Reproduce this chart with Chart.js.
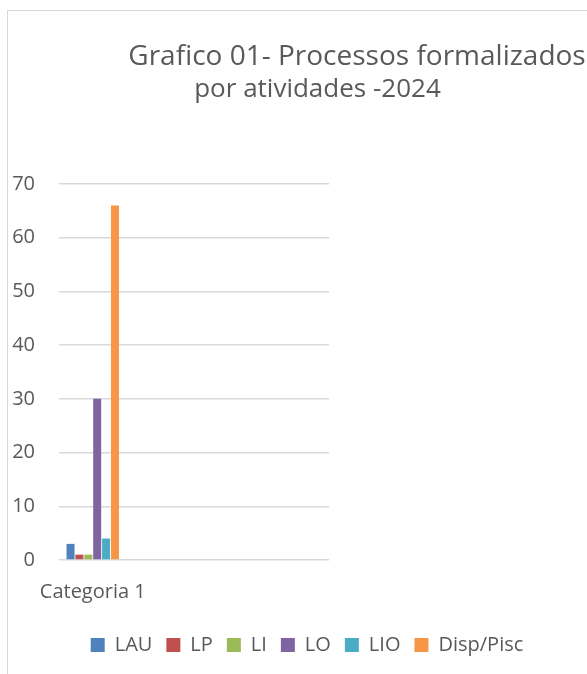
<!DOCTYPE html>
<html>
<head>
<meta charset="utf-8">
<script src="https://cdn.jsdelivr.net/npm/chart.js@4/dist/chart.umd.min.js"></script>
<style>
  html, body { margin: 0; padding: 0; background: #fff; overflow: hidden; width: 587px; height: 674px; }
  #frame { position: absolute; left: 7px; top: 10px; width: 700px; height: 700px; border: 1px solid #d9d9d9; box-sizing: border-box; }
  #wrap { position: absolute; left: 0; top: 0; width: 614px; height: 674px; }
</style>
</head>
<body>
<div id="frame"></div>
<div id="wrap"><canvas id="c" width="614" height="674"></canvas></div>
<script>
const titleLines = ['Grafico 01- Processos formalizados', 'por atividades -2024'];
const categories = ['Categoria 1', '', '', ''];
const seriesNames = ['LAU', 'LP', 'LI', 'LO', 'LIO', 'Disp/Pisc'];
const LAU = [3];
const LP = [1];
const LI = [1];
const LO = [30];
const LIO = [4];
const DispPisc = [66];
const yTicks = [0, 10, 20, 30, 40, 50, 60, 70];

const seriesValues = [LAU, LP, LI, LO, LIO, DispPisc];
const colors = ['#4F81BD', '#C0504D', '#9BBB59', '#8064A2', '#4BACC6', '#F79646'];
const textColor = '#595959';
const FONT = "'Open Sans', sans-serif";

const titlePlugin = {
  id: 'customTitle',
  afterDraw(chart) {
    const ctx = chart.ctx;
    ctx.save();
    ctx.fillStyle = textColor;
    ctx.textAlign = 'center';
    ctx.textBaseline = 'alphabetic';
    ctx.font = "28px " + FONT;
    ctx.fillText(titleLines[0], 357, 65);
    ctx.font = "26px " + FONT;
    ctx.fillText(titleLines[1], 317.5, 97);
    ctx.restore();
  }
};

new Chart(document.getElementById('c'), {
  type: 'bar',
  data: {
    labels: categories,
    datasets: seriesNames.map((n, i) => ({
      label: n,
      data: seriesValues[i],
      backgroundColor: colors[i],
      borderWidth: 0,
      categoryPercentage: 0.79,
      barPercentage: 0.9
    }))
  },
  options: {
    responsive: false,
    animation: false,
    layout: { padding: { left: 0, right: 0, top: 184, bottom: 9 } },
    plugins: {
      title: { display: false },
      tooltip: { enabled: false },
      legend: {
        position: 'bottom',
        labels: {
          boxWidth: 14,
          boxHeight: 14,
          padding: 14,
          color: textColor,
          font: { family: FONT, size: 20 }
        }
      }
    },
    scales: {
      x: {
        grid: { display: false },
        border: { display: false },
        ticks: {
          color: textColor,
          font: { family: FONT, size: 20 },
          maxRotation: 0,
          autoSkip: false,
          padding: 12
        },
        afterFit(s) { s.height = 61; }
      },
      y: {
        min: 0,
        max: 70,
        afterBuildTicks(s) { s.ticks = yTicks.map(v => ({ value: v })); },
        grid: { color: '#d9d9d9', lineWidth: 1.5, drawTicks: false },
        border: { display: false },
        ticks: {
          color: textColor,
          font: { family: FONT, size: 20 },
          padding: 24
        },
        afterFit(s) { s.width = 59; }
      },
      yPad: {
        position: 'right',
        display: true,
        grid: { display: false, drawTicks: false },
        border: { display: false },
        ticks: { display: false },
        afterFit(s) { s.width = 285; }
      }
    }
  },
  plugins: [titlePlugin]
});
</script>
</body>
</html>
